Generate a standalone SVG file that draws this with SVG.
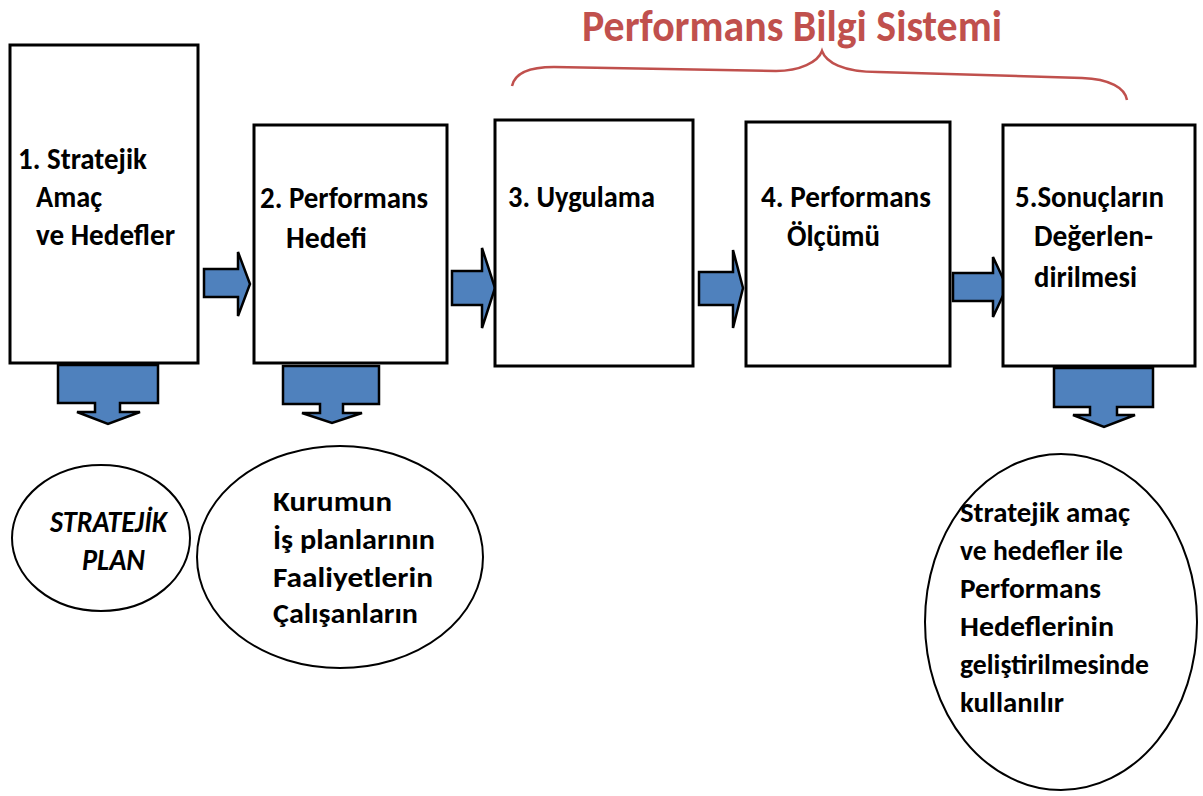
<svg xmlns="http://www.w3.org/2000/svg" width="1203" height="796" viewBox="0 0 1203 796">
<style>
.box{fill:#fff;stroke:#000;stroke-width:3}
.ell{fill:#fff;stroke:#000;stroke-width:2}
.arr{fill:#4F81BD;stroke:#000;stroke-width:2.5;stroke-linejoin:miter}
.t{font-family:Carlito,"Liberation Sans Narrow","Liberation Sans",sans-serif;font-weight:bold;font-size:30px;fill:#000}
.e{font-size:29px}
.it{font-style:italic;font-size:30px}
.title{font-family:Carlito,"Liberation Sans Narrow","Liberation Sans",sans-serif;font-weight:bold;font-size:45px;fill:#C0504D}
</style>
<rect width="1203" height="796" fill="#fff"/>
<g id="title">
<text class="title" x="582" y="41" textLength="420" lengthAdjust="spacingAndGlyphs">Performans Bilgi Sistemi</text>
<path d="M512,86 C515,72 530,67 554,67 L776,71 C800,71 818,62 822,51 C826,62 842,72 878,72 L1082,78 C1110,79 1125,88 1127,100" fill="none" stroke="#C0504D" stroke-width="2.5"/>
</g>
<g id="connectors">
<polygon class="arr" points="204,269 238,269 238,252 250,284 238,316 238,297 204,297"/>
<polygon class="arr" points="452,271 482,271 482,248 495,288 482,328 482,305 452,305"/>
<polygon class="arr" points="699,272 733,272 733,250 743,288 733,328 733,305 699,305"/>
<polygon class="arr" points="953,273 993,273 993,257 1007,287 993,317 993,301 953,301"/>
<polygon class="arr" points="58,365 158,365 158,403 120,403 120,412 140,412 108,424 77,412 95,412 95,403 58,403"/>
<polygon class="arr" points="283,366 379,366 379,404 343,404 343,413 362,413 332,423 302,413 320,413 320,404 283,404"/>
<polygon class="arr" points="1054,368 1153,368 1153,407 1117,407 1117,415 1135,415 1104,427 1073,415 1090,415 1090,407 1054,407"/>
</g>
<g id="n1">
<rect class="box" x="10" y="45" width="188" height="318"/>
<text class="t" x="18" y="169" textLength="129" lengthAdjust="spacingAndGlyphs">1. Stratejik</text>
<text class="t" x="36" y="207" textLength="66" lengthAdjust="spacingAndGlyphs">Amaç</text>
<text class="t" x="36" y="245" textLength="139" lengthAdjust="spacingAndGlyphs">ve Hedefler</text>
</g>
<g id="n2">
<rect class="box" x="254" y="125" width="193" height="238"/>
<text class="t" x="260" y="208" textLength="168" lengthAdjust="spacingAndGlyphs">2. Performans</text>
<text class="t" x="286" y="248" textLength="81" lengthAdjust="spacingAndGlyphs">Hedefi</text>
</g>
<g id="n3">
<rect class="box" x="495" y="120" width="198" height="246"/>
<text class="t" x="508" y="207" textLength="147" lengthAdjust="spacingAndGlyphs">3. Uygulama</text>
</g>
<g id="n4">
<rect class="box" x="746" y="122" width="204" height="244"/>
<text class="t" x="761" y="207" textLength="170" lengthAdjust="spacingAndGlyphs">4. Performans</text>
<text class="t" x="787" y="246" textLength="93" lengthAdjust="spacingAndGlyphs">Ölçümü</text>
</g>
<g id="n5">
<rect class="box" x="1003" y="125" width="192" height="241"/>
<text class="t" x="1015" y="207" textLength="149" lengthAdjust="spacingAndGlyphs">5.Sonuçların</text>
<text class="t" x="1034" y="246" textLength="119" lengthAdjust="spacingAndGlyphs">Değerlen-</text>
<text class="t" x="1034" y="287" textLength="103" lengthAdjust="spacingAndGlyphs">dirilmesi</text>
</g>
<g id="e1">
<ellipse class="ell" cx="101" cy="538" rx="89" ry="73"/>
<text class="t it" x="50" y="532" textLength="117" lengthAdjust="spacingAndGlyphs">STRATEJİK</text>
<text class="t it" x="82" y="570" textLength="63" lengthAdjust="spacingAndGlyphs">PLAN</text>
</g>
<g id="e2">
<ellipse class="ell" cx="340" cy="557" rx="143" ry="111"/>
<text class="t e" x="273" y="511" textLength="119" lengthAdjust="spacingAndGlyphs">Kurumun</text>
<text class="t e" x="273" y="549" textLength="162" lengthAdjust="spacingAndGlyphs">İş planlarının</text>
<text class="t e" x="273" y="587" textLength="160" lengthAdjust="spacingAndGlyphs">Faaliyetlerin</text>
<text class="t e" x="273" y="623" textLength="145" lengthAdjust="spacingAndGlyphs">Çalışanların</text>
</g>
<g id="e3">
<ellipse class="ell" cx="1061" cy="622" rx="136" ry="168"/>
<text class="t e" x="960" y="522" textLength="170" lengthAdjust="spacingAndGlyphs">Stratejik amaç</text>
<text class="t e" x="960" y="560" textLength="163" lengthAdjust="spacingAndGlyphs">ve hedefler ile</text>
<text class="t e" x="960" y="598" textLength="141" lengthAdjust="spacingAndGlyphs">Performans</text>
<text class="t e" x="960" y="636" textLength="154" lengthAdjust="spacingAndGlyphs">Hedeflerinin</text>
<text class="t e" x="960" y="674" textLength="189" lengthAdjust="spacingAndGlyphs">geliştirilmesinde</text>
<text class="t e" x="960" y="712" textLength="104" lengthAdjust="spacingAndGlyphs">kullanılır</text>
</g>
</svg>
